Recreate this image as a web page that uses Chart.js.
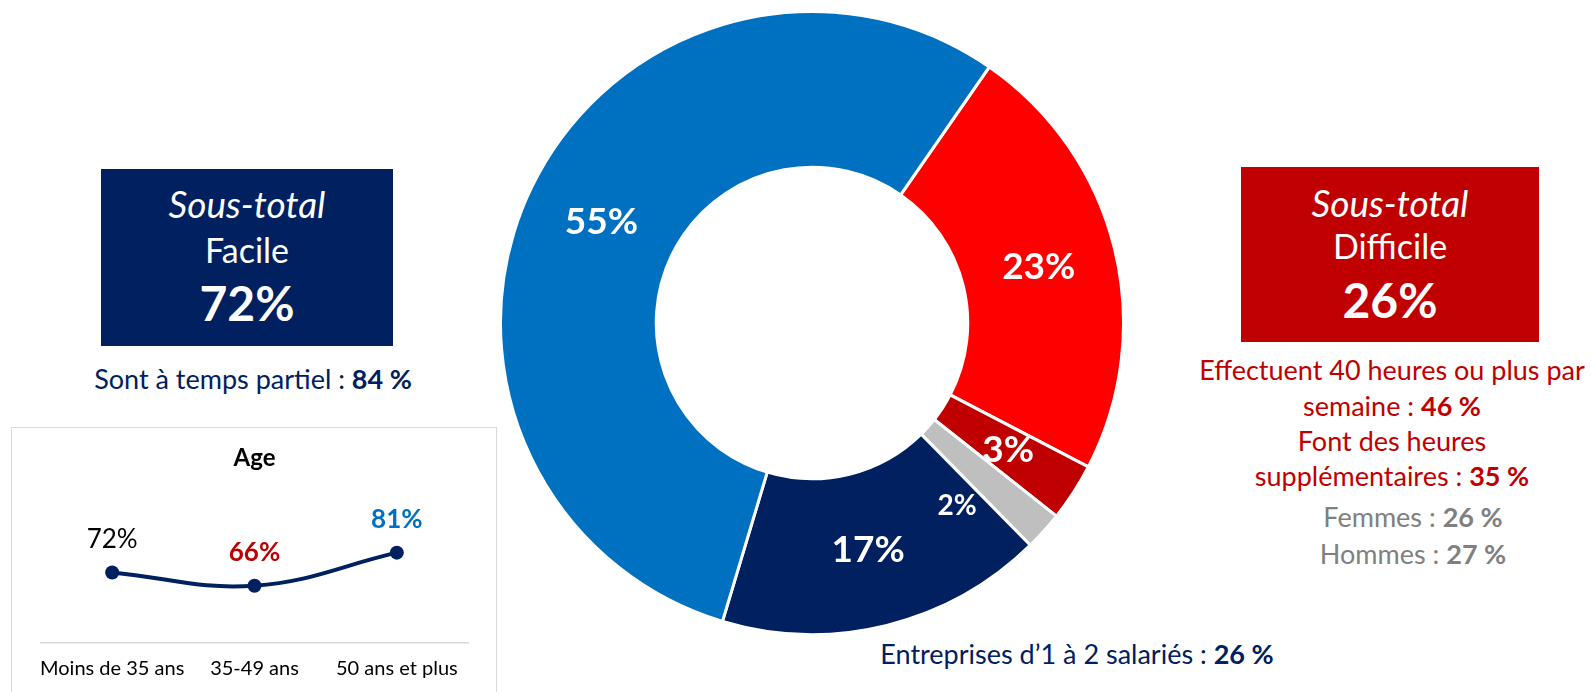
<!DOCTYPE html>
<html lang="fr">
<head>
<meta charset="utf-8">
<script src="https://cdn.jsdelivr.net/npm/chart.js@4.4.1/dist/chart.umd.min.js"></script>
<style>
    body { margin: 0; width: 1591px; height: 692px; overflow: hidden; background: #fff; font-family: Lato, sans-serif; position: relative; }
    .t { position: absolute; transform: translate(-50%, -50%); white-space: nowrap; line-height: 1; }
    .panel { position: absolute; }
    .navy { color: #002060; }
    .red { color: #C00000; }
    .grey { color: #808080; }
    #ageBox { position: absolute; left: 11px; top: 427px; width: 486px; height: 300px; border: 1px solid #D9D9D9; box-sizing: border-box; }
    canvas { position: absolute; }
</style>
</head>
<body>

<!-- left summary -->
<div class="panel" style="left:101px; top:169px; width:292px; height:177px; background:#002060;"></div>
<div class="t" style="left:247px; top:203px; color:#fff; font-size:37px; font-style:italic;">Sous-total</div>
<div class="t" style="left:247px; top:250px; color:#fff; font-size:34px;">Facile</div>
<div class="t" style="left:247px; top:303px; color:#fff; font-size:48px; font-weight:bold;">72%</div>
<div class="t navy" style="left:253px; top:378px; font-size:27px;">Sont à temps partiel : <b>84 %</b></div>

<!-- right summary -->
<div class="panel" style="left:1241px; top:167px; width:298px; height:175px; background:#C00000;"></div>
<div class="t" style="left:1390px; top:202px; color:#fff; font-size:37px; font-style:italic;">Sous-total</div>
<div class="t" style="left:1390px; top:246px; color:#fff; font-size:34px;">Difficile</div>
<div class="t" style="left:1390px; top:300px; color:#fff; font-size:48px; font-weight:bold;">26%</div>
<div class="t red" style="left:1392px; top:369px; font-size:27px;">Effectuent 40 heures ou plus par</div>
<div class="t red" style="left:1392px; top:405px; font-size:27px;">semaine : <b>46 %</b></div>
<div class="t red" style="left:1392px; top:440px; font-size:27px;">Font des heures</div>
<div class="t red" style="left:1392px; top:475px; font-size:27px;">supplémentaires : <b>35 %</b></div>
<div class="t grey" style="left:1413px; top:516px; font-size:27px;">Femmes : <b>26 %</b></div>
<div class="t grey" style="left:1413px; top:553px; font-size:27px;">Hommes : <b>27 %</b></div>

<div class="t navy" style="left:1077px; top:653px; font-size:27px;">Entreprises d’1 à 2 salariés : <b>26 %</b></div>

<div id="ageBox"></div>
<canvas id="ageChart" width="484" height="282" style="left:12px; top:428px;"></canvas>
<canvas id="donutChart" width="626" height="626" style="left:499px; top:10px;"></canvas>

<script>
// donut data (clockwise from the red slice)
const donutLabels = ["Plutôt difficile", "Très difficile", "Ne sait pas", "Très facile", "Plutôt facile"];
const donutValues = [23, 3, 2, 17, 55];
const donutColors = ["#FF0000", "#C00000", "#BFBFBF", "#002060", "#0070C0"];

// age breakdown
const ageLabels = ["Moins de 35 ans", "35-49 ans", "50 ans et plus"];
const ageValues = [72, 66, 81];
const ageLabelColors = ["#000000", "#C00000", "#0070C0"];

// labels on the ring
const donutLabelPlugin = {
    id: "donutLabels",
    afterDatasetsDraw(chart) {
        const ctx = chart.ctx;
        const sizes = [37, 37, 28, 37, 37];
        const shift = [0, 0, 0.17, 0, 0]; // 2% label sits a bit into the navy slice
        chart.getDatasetMeta(0).data.forEach((arc, i) => {
            const p = arc.getProps(["x", "y", "startAngle", "endAngle", "innerRadius", "outerRadius"], true);
            const a = (p.startAngle + p.endAngle) / 2 + shift[i];
            const r = (p.innerRadius + p.outerRadius) / 2;
            ctx.save();
            ctx.font = "bold " + sizes[i] + "px Lato";
            ctx.fillStyle = "#fff";
            ctx.textAlign = "center";
            ctx.textBaseline = "middle";
            ctx.fillText(donutValues[i] + "%", p.x + Math.cos(a) * r, p.y + Math.sin(a) * r);
            ctx.restore();
        });
    }
};

new Chart(document.getElementById("donutChart"), {
    type: "doughnut",
    data: {
        labels: donutLabels,
        datasets: [{
            data: donutValues,
            backgroundColor: donutColors,
            borderColor: "#fff",
            borderWidth: 3
        }]
    },
    options: {
        responsive: false,
        animation: false,
        cutout: "50%",
        rotation: 34.7,
        plugins: { legend: { display: false }, tooltip: { enabled: false } }
    },
    plugins: [donutLabelPlugin]
});

// value labels above the age points
const agePointLabels = {
    id: "agePointLabels",
    afterDatasetsDraw(chart) {
        const ctx = chart.ctx;
        chart.getDatasetMeta(0).data.forEach((pt, i) => {
            ctx.save();
            ctx.font = (i > 0 ? "bold " : "") + "26px Lato";
            ctx.fillStyle = ageLabelColors[i];
            ctx.textAlign = "center";
            ctx.textBaseline = "middle";
            ctx.fillText(ageValues[i] + "%", pt.x, pt.y - 33);
            ctx.restore();
        });
    }
};

new Chart(document.getElementById("ageChart"), {
    type: "line",
    data: {
        labels: ageLabels,
        datasets: [{
            data: ageValues,
            borderColor: "#002060",
            borderWidth: 4,
            pointRadius: 7,
            pointBackgroundColor: "#002060",
            pointBorderWidth: 0,
            tension: 0.4,
            clip: false
        }]
    },
    options: {
        responsive: false,
        animation: false,
        layout: { padding: { left: 29, right: 28, top: 0, bottom: 15 } },
        scales: {
            x: {
                offset: true,
                grid: { display: false, drawTicks: false },
                border: { display: true, color: "#D9D9D9", width: 1.5 },
                ticks: { color: "#000", padding: 14, maxRotation: 0, minRotation: 0, autoSkip: false, font: { family: "Lato", size: 20 } }
            },
            y: { display: false, min: 40, max: 100 }
        },
        plugins: {
            legend: { display: false },
            tooltip: { enabled: false },
            title: {
                display: true,
                text: "Age",
                color: "#000",
                font: { family: "Lato", size: 24, weight: "bold" },
                padding: { top: 16, bottom: 38 }
            }
        }
    },
    plugins: [agePointLabels]
});
</script>
</body>
</html>
